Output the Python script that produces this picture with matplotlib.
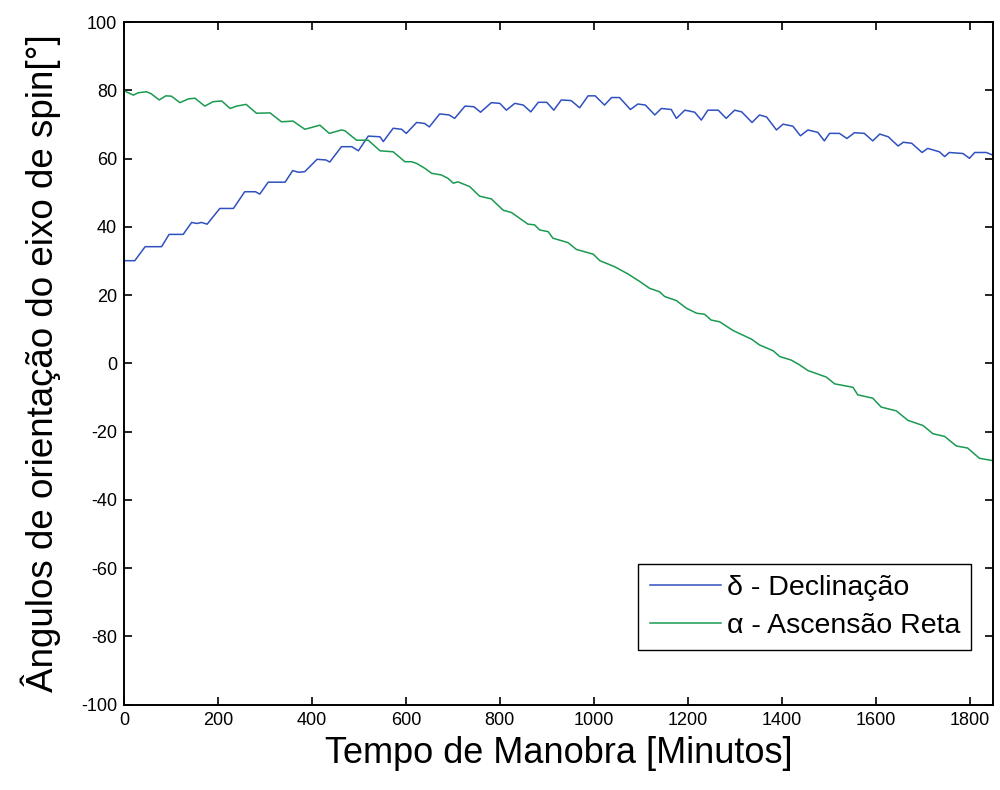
import matplotlib
matplotlib.use('Agg')
import matplotlib.pyplot as plt
from matplotlib import font_manager

# declination (blue) - minutes / degrees
dec_t = [0, 23, 45, 80, 96, 126, 144, 155, 165, 177, 204, 233, 257, 280, 289,
         307, 343, 359, 372, 385, 411, 430, 438, 463, 485, 499, 520, 545, 552,
         573, 591, 601, 623, 640, 650, 672, 692, 704, 726, 745, 759, 782, 800,
         814, 832, 850, 866, 882, 900, 915, 931, 952, 970, 988, 1003, 1023,
         1038, 1055, 1078, 1094, 1110, 1130, 1144, 1165, 1176, 1194, 1215,
         1229, 1243, 1265, 1282, 1300, 1315, 1337, 1353, 1368, 1389, 1403,
         1424, 1440, 1456, 1477, 1491, 1502, 1523, 1539, 1555, 1576, 1594,
         1609, 1627, 1648, 1659, 1677, 1699, 1711, 1736, 1747, 1757, 1786,
         1800, 1811, 1836, 1850]
dec_v = [30.1, 30.1, 34.2, 34.2, 37.8, 37.8, 41.3, 41.0, 41.3, 40.8, 45.4,
         45.4, 50.3, 50.3, 49.6, 53.1, 53.1, 56.5, 56.0, 56.2, 59.8, 59.6,
         59.0, 63.5, 63.5, 62.3, 66.6, 66.4, 65.0, 68.9, 68.6, 67.4, 70.6,
         70.3, 69.3, 73.1, 72.8, 71.8, 75.4, 75.2, 73.6, 76.4, 76.2, 74.2,
         76.2, 75.7, 73.7, 76.5, 76.5, 74.2, 77.2, 77.0, 74.9, 78.4, 78.4,
         75.7, 77.9, 77.9, 74.4, 76.0, 75.7, 72.8, 74.7, 74.4, 71.8, 74.2,
         73.6, 71.3, 74.2, 74.2, 71.8, 74.2, 73.7, 70.6, 72.8, 72.2, 68.4,
         70.1, 69.5, 66.7, 68.4, 67.7, 65.2, 67.4, 67.4, 65.9, 67.6, 67.4,
         65.2, 67.2, 66.4, 63.7, 64.8, 64.5, 61.8, 63.0, 62.0, 60.6, 61.8,
         61.5, 60.1, 61.8, 61.8, 61.0]

# right ascension (green)
asc_t = [0, 20, 30, 48, 58, 75, 89, 101, 119, 137, 151, 172, 190, 208, 226,
         240, 260, 282, 311, 335, 360, 385, 417, 437, 463, 470, 495, 520, 545,
         573, 598, 612, 623, 640, 655, 676, 690, 701, 711, 736, 757, 782, 807,
         825, 860, 874, 885, 903, 913, 945, 963, 999, 1013, 1045, 1073, 1098,
         1119, 1140, 1151, 1176, 1197, 1219, 1236, 1250, 1268, 1297, 1336,
         1353, 1382, 1396, 1420, 1438, 1456, 1495, 1513, 1552, 1562, 1594,
         1612, 1644, 1669, 1701, 1722, 1747, 1772, 1796, 1821, 1850]
asc_v = [79.9, 78.6, 79.3, 79.6, 79.0, 77.2, 78.4, 78.3, 76.4, 77.5, 77.7,
         75.4, 76.7, 76.9, 74.7, 75.4, 75.9, 73.3, 73.4, 70.8, 71.0, 68.6,
         69.8, 67.4, 68.4, 68.2, 65.4, 65.4, 62.3, 62.0, 59.1, 59.1, 58.6,
         57.2, 55.7, 55.2, 54.2, 52.8, 53.2, 51.8, 49.0, 48.2, 44.9, 44.2,
         40.8, 40.6, 39.1, 38.6, 36.7, 35.4, 33.4, 32.0, 30.1, 28.3, 26.2,
         24.0, 22.0, 21.0, 19.6, 18.4, 16.2, 14.7, 14.4, 12.7, 12.2, 9.6, 7.1,
         5.4, 3.7, 2.0, 1.0, -0.4, -2.1, -4.0, -6.0, -7.0, -9.2, -10.2, -12.8,
         -13.9, -16.7, -18.2, -20.6, -21.4, -24.2, -24.8, -27.8, -28.5]

labels = ['δ - Declinação', 'α - Ascensão Reta']

names = {f.name for f in font_manager.fontManager.ttflist}
tickfont = 'Liberation Sans Narrow' if 'Liberation Sans Narrow' in names else 'Liberation Sans'
plt.rcParams['font.family'] = ['Liberation Sans', 'DejaVu Sans']
plt.rcParams['axes.unicode_minus'] = False

fig = plt.figure(figsize=(10, 7.9), dpi=100)
ax = fig.add_axes([0.124, 0.108, 0.869, 0.864])

ax.plot(dec_t, dec_v, color='#3050c0', lw=1.1, label=labels[0])
ax.plot(asc_t, asc_v, color='#1a9a50', lw=1.1, label=labels[1])

ax.set_xlim(0, 1850)
ax.set_ylim(-100, 100)
ax.set_xticks(range(0, 1801, 200))
ax.set_yticks(range(-100, 101, 20))
ax.tick_params(direction='in', top=True, right=True, length=6, width=1.2,
               labelsize=14.5 if tickfont.endswith('Narrow') else 13, pad=5)
for t in ax.get_xticklabels() + ax.get_yticklabels():
    t.set_family(tickfont)
for s in ax.spines.values():
    s.set_linewidth(1.4)

ax.set_xlabel('Tempo de Manobra [Minutos]', fontsize=26, labelpad=5)
ax.set_ylabel('Ângulos de orientação do eixo de spin[°]', fontsize=26.5, labelpad=14)

leg = ax.legend(loc='lower right', bbox_to_anchor=(0.975, 0.08), fontsize=20.5,
                fancybox=False, edgecolor='black', framealpha=1,
                handlelength=2.5, handletextpad=0.2, borderpad=0.4,
                labelspacing=0.4, borderaxespad=0)
leg.get_frame().set_linewidth(1.0)

fig.savefig('out.png', dpi=100)
